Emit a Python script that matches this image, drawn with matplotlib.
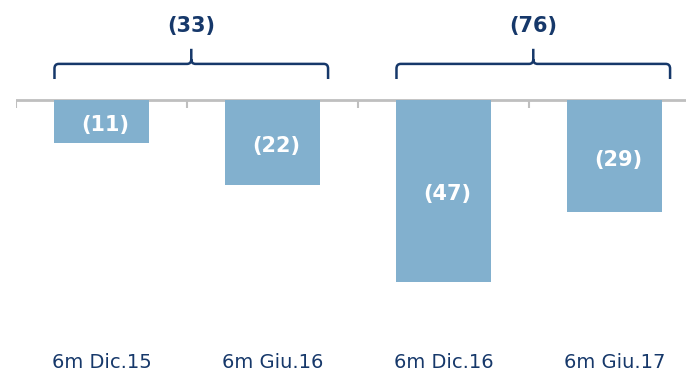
import matplotlib.pyplot as plt
from matplotlib.path import Path
from matplotlib.patches import PathPatch

# half-year results (negative values)
periods = ["6m Dic.15", "6m Giu.16", "6m Dic.16", "6m Giu.17"]
values = [-11, -22, -47, -29]
groups = [(0, 1), (2, 3)]   # bars summed under each brace

BAR_COLOR = "#82B0CE"
NAVY = "#16386A"
AXIS_GREY = "#BFBFBF"


def fmt(v):
    return "(%d)" % abs(v)


def draw_brace(ax, x0, x1, y_end, y_line, y_peak, color):
    cx = (x0 + x1) / 2.0
    rx, ry = 0.025, 1.2
    verts = [(x0, y_end), (x0, y_line - ry), (x0, y_line), (x0 + rx, y_line),
             (cx - rx, y_line), (cx, y_line), (cx, y_line + ry),
             (cx, y_peak),
             (cx, y_line + ry), (cx, y_line), (cx + rx, y_line),
             (x1 - rx, y_line), (x1, y_line), (x1, y_line - ry),
             (x1, y_end)]
    codes = [Path.MOVETO, Path.LINETO, Path.CURVE3, Path.CURVE3,
             Path.LINETO, Path.CURVE3, Path.CURVE3,
             Path.LINETO,
             Path.MOVETO, Path.CURVE3, Path.CURVE3,
             Path.LINETO, Path.CURVE3, Path.CURVE3,
             Path.LINETO]
    ax.add_patch(PathPatch(Path(verts, codes), fill=False, edgecolor=color,
                           lw=1.8, capstyle="butt", joinstyle="round"))
    return cx


fig = plt.figure(figsize=(6.86, 3.78), dpi=100)
ax = fig.add_axes([16 / 686, 0, 684 / 686, 1])
ax.set_xlim(-0.5, 3.5)
ax.set_ylim(-71.8, 25.8)
ax.axis("off")

x = list(range(len(periods)))
width = 0.55
ax.bar(x, values, width=width, color=BAR_COLOR, zorder=2)

# zero line with boundary ticks
ax.axhline(0, color=AXIS_GREY, lw=2, zorder=1)
ax.vlines([i - 0.5 for i in range(len(periods))], -2.1, 0, color=AXIS_GREY, lw=1.5)

for i, v in enumerate(values):
    ax.annotate(fmt(v), (i, v / 2.0), xytext=(2.5, -2.5), textcoords="offset points",
                ha="center", va="center", color="white",
                fontsize=15, fontweight="bold", zorder=3)
    ax.text(i, -67.8, periods[i], ha="center", va="center", color=NAVY,
            fontsize=14)

for a, b in groups:
    left = a - width / 2
    right = b + width / 2 + 0.05
    cx = draw_brace(ax, left, right, 5.4, 9.3, 13.2, NAVY)
    total = sum(values[a:b + 1])
    ax.text(cx, 19.2, fmt(total), ha="center", va="center", color=NAVY,
            fontsize=15, fontweight="bold")

fig.savefig("out.png", dpi=100)
